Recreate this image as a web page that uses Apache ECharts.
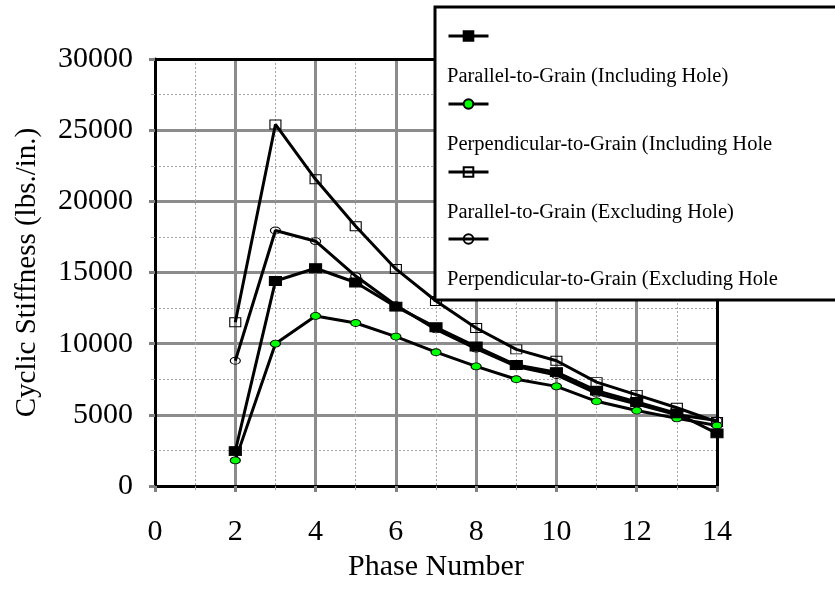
<!DOCTYPE html>
<html>
<head>
<meta charset="utf-8">
<script src="https://cdn.jsdelivr.net/npm/echarts@6/dist/echarts.min.js"></script>
<style>
  html, body { margin: 0; padding: 0; background: #fff; }
  #chart { width: 835px; height: 589px; }
</style>
</head>
<body>
<div id="chart"></div>
<script>
// Phase numbers on the x axis
const phases = [2, 3, 4, 5, 6, 7, 8, 9, 10, 11, 12, 13, 14];

// Cyclic stiffness (lbs./in.) per phase
const parallelIncluding = [2450, 14400, 15300, 14300, 12600, 11150, 9800, 8500, 8000, 6700, 5900, 5100, 3700];
const perpendicularIncluding = [1800, 10000, 11950, 11450, 10500, 9400, 8400, 7500, 7000, 5950, 5300, 4750, 4250];
const parallelExcluding = [11500, 25400, 21550, 18250, 15250, 13000, 11100, 9600, 8800, 7300, 6400, 5500, 4500];
const perpendicularExcluding = [8800, 17950, 17200, 14750, 12700, 11000, 9650, 8400, 7800, 6500, 5750, 5000, 4600];

const seriesNames = [
  'Parallel-to-Grain (Including Hole)',
  'Perpendicular-to-Grain (Including Hole',
  'Parallel-to-Grain (Excluding Hole)',
  'Perpendicular-to-Grain (Excluding Hole'
];

const xTicks = [0, 2, 4, 6, 8, 10, 12, 14];
const yTicks = [0, 5000, 10000, 15000, 20000, 25000, 30000];

const FONT = '"Liberation Serif", "Times New Roman", serif';
const ELLIPSE = 'path://M0,5 A10,5 0 1,1 20,5 A10,5 0 1,1 0,5 Z';

function pairs(values) {
  return phases.map((p, i) => [p, values[i]]);
}

const seriesDefs = [
  { data: parallelIncluding, symbol: 'rect', size: [12, 9], fill: '#000000', z: 5 },
  { data: perpendicularIncluding, symbol: ELLIPSE, size: [10, 7], fill: '#00ff00', z: 4 },
  { data: parallelExcluding, symbol: 'rect', size: [11, 9], fill: 'rgba(255,255,255,0)', z: 3 },
  { data: perpendicularExcluding, symbol: ELLIPSE, size: [10, 7], fill: 'rgba(255,255,255,0)', z: 2 }
];

const series = seriesDefs.map((d, i) => ({
  name: seriesNames[i],
  type: 'line',
  data: pairs(d.data),
  symbol: d.symbol,
  symbolSize: d.size,
  showAllSymbol: true,
  z: d.z,
  lineStyle: { color: '#000', width: 3 },
  itemStyle: { color: d.fill, borderColor: '#000', borderWidth: 1 },
  emphasis: { disabled: true },
  animation: false
}));

// One legend block per series: icon row, with the label on the row below
const legendRows = [36, 104, 172, 239];
const legends = seriesNames.map((name, i) => ({
  data: [name],
  left: 447,
  top: legendRows[i] - 6,
  padding: 0,
  z: 100,
  itemWidth: 40,
  itemHeight: 12,
  lineStyle: { width: 3, color: '#000' },
  formatter: () => '',
  selectedMode: false,
  textStyle: { fontSize: 1 }
}));

const legendLabels = seriesNames.map((name, i) => ({
  type: 'text',
  left: 447,
  top: legendRows[i] + 30,
  z: 100,
  style: { text: name, font: '20.5px ' + FONT, fill: '#000' }
}));

const chart = echarts.init(document.getElementById('chart'), null, { renderer: 'canvas' });

chart.setOption({
  backgroundColor: '#fff',
  animation: false,
  grid: { left: 155, right: 118, top: 59, bottom: 103, containLabel: false },
  legend: legends,
  xAxis: [
    {
      type: 'value',
      min: 0, max: 14, interval: 2,
      name: 'Phase Number',
      nameLocation: 'middle',
      nameGap: 66,
      nameTextStyle: { fontFamily: FONT, fontSize: 30, color: '#000' },
      axisLine: { onZero: false, lineStyle: { color: '#000', width: 3 } },
      axisTick: { show: true, length: 6, lineStyle: { color: '#808080', width: 3 } },
      minorTick: { show: true, splitNumber: 2, length: 4, lineStyle: { color: '#a0a0a0', width: 1 } },
      axisLabel: {
        margin: 31, fontFamily: FONT, fontSize: 30, color: '#000',
        formatter: v => (xTicks.includes(v) ? String(v) : '')
      },
      splitLine: { show: true, lineStyle: { color: '#8c8c8c', width: 3 } },
      minorSplitLine: { show: true, lineStyle: { color: '#a6a6a6', width: 1, type: [2, 2] } }
    },
    {
      type: 'value', position: 'top', min: 0, max: 14,
      axisLine: { show: true, onZero: false, lineStyle: { color: '#000', width: 3 } },
      axisTick: { show: false }, axisLabel: { show: false }, splitLine: { show: false }
    }
  ],
  yAxis: [
    {
      type: 'value',
      min: 0, max: 30000, interval: 5000,
      name: 'Cyclic Stiffness (lbs./in.)',
      nameLocation: 'middle',
      nameGap: 113,
      nameTextStyle: { fontFamily: FONT, fontSize: 29, color: '#000' },
      axisLine: { show: true, onZero: false, lineStyle: { color: '#000', width: 3 } },
      axisTick: { show: true, length: 6, lineStyle: { color: '#808080', width: 3 } },
      minorTick: { show: true, splitNumber: 2, length: 4, lineStyle: { color: '#a0a0a0', width: 1 } },
      axisLabel: {
        margin: 22, fontFamily: FONT, fontSize: 30, color: '#000',
        formatter: v => (yTicks.includes(v) ? String(v) : '')
      },
      splitLine: { show: true, lineStyle: { color: '#8c8c8c', width: 3 } },
      minorSplitLine: { show: true, lineStyle: { color: '#a6a6a6', width: 1, type: [2, 2] } }
    },
    {
      type: 'value', position: 'right', min: 0, max: 30000,
      axisLine: { show: true, onZero: false, lineStyle: { color: '#000', width: 3 } },
      axisTick: { show: false }, axisLabel: { show: false }, splitLine: { show: false }
    }
  ],
  graphic: [
    {
      type: 'rect',
      shape: { x: 435, y: 7, width: 420, height: 293 },
      z: 90,
      style: { fill: '#fff', stroke: '#000', lineWidth: 3 }
    }
  ].concat(legendLabels),
  series: series
});
</script>
</body>
</html>
